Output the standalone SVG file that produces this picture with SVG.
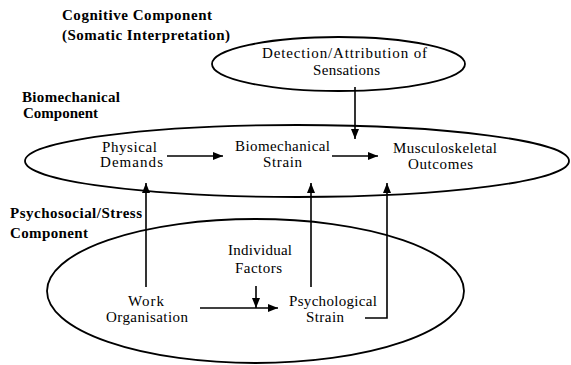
<svg xmlns="http://www.w3.org/2000/svg" width="571" height="365" viewBox="0 0 571 365">
  <style>
    .bg { fill: #ffffff; }
    .comp { fill: none; stroke: #000; stroke-width: 1.8; }
    .lbl { font-family: "Liberation Serif", "Times New Roman", serif; font-size: 15px; font-weight: bold; fill: #000; }
    .txt { font-family: "Liberation Serif", "Times New Roman", serif; font-size: 15px; fill: #000; text-anchor: middle; }
    .edge { fill: none; stroke: #000; stroke-width: 1.6; marker-end: url(#arrow); }
  </style>
  <defs>
    <marker id="arrow" markerUnits="userSpaceOnUse" markerWidth="10" markerHeight="8" refX="10" refY="4" orient="auto">
      <path d="M0,0 L10,4 L0,8 Z" fill="#000"/>
    </marker>
  </defs>

  <rect class="bg" x="0" y="0" width="571" height="365"/>

  <!-- component outlines -->
  <g id="cognitive-component">
    <ellipse class="comp" cx="338.5" cy="64" rx="126.5" ry="27"/>
    <text class="lbl" x="62" y="20" textLength="150" lengthAdjust="spacing">Cognitive Component</text>
    <text class="lbl" x="62" y="40" textLength="168" lengthAdjust="spacing">(Somatic Interpretation)</text>
  </g>
  <g id="biomechanical-component">
    <ellipse class="comp" cx="297" cy="161" rx="272" ry="36"/>
    <text class="lbl" x="22" y="102" textLength="98" lengthAdjust="spacing">Biomechanical</text>
    <text class="lbl" x="23" y="118" textLength="75" lengthAdjust="spacing">Component</text>
  </g>
  <g id="psychosocial-component">
    <ellipse class="comp" cx="255.5" cy="291" rx="208.5" ry="72"/>
    <text class="lbl" x="10" y="218" textLength="132" lengthAdjust="spacing">Psychosocial/Stress</text>
    <text class="lbl" x="10" y="238" textLength="78" lengthAdjust="spacing">Component</text>
  </g>

  <!-- nodes -->
  <g id="detection">
    <text class="txt" x="344.5" y="58" textLength="165" lengthAdjust="spacing">Detection/Attribution of</text>
    <text class="txt" x="346.5" y="75" textLength="67" lengthAdjust="spacing">Sensations</text>
  </g>
  <g id="physical-demands">
    <text class="txt" x="129.5" y="152" textLength="55" lengthAdjust="spacing">Physical</text>
    <text class="txt" x="131.5" y="167" textLength="63" lengthAdjust="spacing">Demands</text>
  </g>
  <g id="biomechanical-strain">
    <text class="txt" x="282.5" y="151" textLength="95" lengthAdjust="spacing">Biomechanical</text>
    <text class="txt" x="282.5" y="167" textLength="39" lengthAdjust="spacing">Strain</text>
  </g>
  <g id="musculoskeletal-outcomes">
    <text class="txt" x="445" y="153" textLength="104" lengthAdjust="spacing">Musculoskeletal</text>
    <text class="txt" x="440.5" y="169" textLength="65" lengthAdjust="spacing">Outcomes</text>
  </g>
  <g id="individual-factors">
    <text class="txt" x="260" y="255" textLength="64" lengthAdjust="spacing">Individual</text>
    <text class="txt" x="258.5" y="273" textLength="47" lengthAdjust="spacing">Factors</text>
  </g>
  <g id="work-organisation">
    <text class="txt" x="146" y="306" textLength="36" lengthAdjust="spacing">Work</text>
    <text class="txt" x="147" y="322" textLength="82" lengthAdjust="spacing">Organisation</text>
  </g>
  <g id="psychological-strain">
    <text class="txt" x="333" y="306" textLength="88" lengthAdjust="spacing">Psychological</text>
    <text class="txt" x="325" y="322" textLength="38" lengthAdjust="spacing">Strain</text>
  </g>

  <!-- connectors -->
  <g id="connectors">
    <path class="edge" d="M167,156 H223"/>
    <path class="edge" d="M332,156 H378"/>
    <path class="edge" d="M355,87 V139"/>
    <path class="edge" d="M146,287 V183"/>
    <path class="edge" d="M311,287 V183"/>
    <path class="edge" d="M365,318 H387 V183"/>
    <path class="edge" d="M200,308 H278"/>
    <path class="edge" d="M256,286 V308"/>
  </g>
</svg>
